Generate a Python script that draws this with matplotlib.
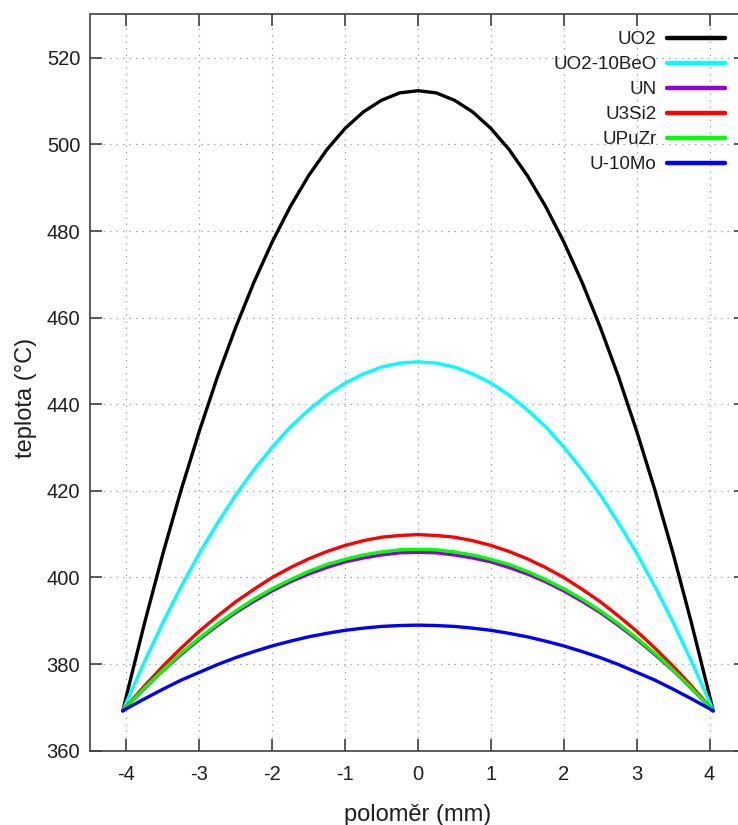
# =============================================================================
# Imports
# =============================================================================
import matplotlib
matplotlib.use('Agg')
import matplotlib.pyplot as plt

# =============================================================================
# Data - teplotni profil v palivu (polomer v mm, teplota ve stupnich C)
# =============================================================================
r_mm = [-4.05, -4.0, -3.75, -3.5, -3.25, -3.0, -2.75, -2.5, -2.25, -2.0, -1.75,
        -1.5, -1.25, -1.0, -0.75, -0.5, -0.25, 0.0, 0.25, 0.5, 0.75, 1.0, 1.25,
        1.5, 1.75, 2.0, 2.25, 2.5, 2.75, 3.0, 3.25, 3.5, 3.75, 4.0, 4.05]

t_uo2 = [369.2, 372.7, 389.6, 405.5, 420.2, 433.8, 446.4, 457.8, 468.2, 477.5,
         485.7, 492.8, 498.8, 503.7, 507.5, 510.2, 511.9, 512.4, 511.9, 510.2,
         507.5, 503.7, 498.8, 492.8, 485.7, 477.5, 468.2, 457.8, 446.4, 433.8,
         420.2, 405.5, 389.6, 372.7, 369.2]
t_uo2_beo = [369.2, 371.2, 380.7, 389.6, 397.9, 405.6, 412.6, 419.1, 424.9, 430.1,
             434.8, 438.7, 442.1, 444.9, 447.0, 448.6, 449.5, 449.8, 449.5, 448.6,
             447.0, 444.9, 442.1, 438.7, 434.8, 430.1, 424.9, 419.1, 412.6, 405.6,
             397.9, 389.6, 380.7, 371.2, 369.2]
t_un = [369.2, 370.1, 374.4, 378.5, 382.2, 385.7, 388.9, 391.9, 394.5, 396.9,
        399.0, 400.8, 402.3, 403.6, 404.5, 405.2, 405.7, 405.8, 405.7, 405.2,
        404.5, 403.6, 402.3, 400.8, 399.0, 396.9, 394.5, 391.9, 388.9, 385.7,
        382.2, 378.5, 374.4, 370.1, 369.2]
t_u3si2 = [369.2, 370.2, 375.0, 379.5, 383.7, 387.6, 391.1, 394.4, 397.3, 400.0,
           402.3, 404.3, 406.0, 407.4, 408.5, 409.3, 409.7, 409.9, 409.7, 409.3,
           408.5, 407.4, 406.0, 404.3, 402.3, 400.0, 397.3, 394.4, 391.1, 387.6,
           383.7, 379.5, 375.0, 370.2, 369.2]
t_upuzr = [369.2, 370.1, 374.5, 378.6, 382.5, 386.0, 389.3, 392.3, 395.0, 397.4,
           399.5, 401.4, 403.0, 404.2, 405.2, 405.9, 406.4, 406.5, 406.4, 405.9,
           405.2, 404.2, 403.0, 401.4, 399.5, 397.4, 395.0, 392.3, 389.3, 386.0,
           382.5, 378.6, 374.5, 370.1, 369.2]
t_u10mo = [369.2, 369.7, 372.0, 374.2, 376.3, 378.1, 379.9, 381.5, 382.9, 384.2,
           385.3, 386.3, 387.1, 387.8, 388.3, 388.7, 388.9, 389.0, 388.9, 388.7,
           388.3, 387.8, 387.1, 386.3, 385.3, 384.2, 382.9, 381.5, 379.9, 378.1,
           376.3, 374.2, 372.0, 369.7, 369.2]

labels = ['UO2', 'UO2-10BeO', 'UN', 'U3Si2', 'UPuZr', 'U-10Mo']
colors = ['#000000', '#00ffff', '#9400d3', '#ff0000', '#00ff00', '#0000ff']
series = [t_uo2, t_uo2_beo, t_un, t_u3si2, t_upuzr, t_u10mo]

x_ticks = [-4, -3, -2, -1, 0, 1, 2, 3, 4]
y_ticks = [360, 380, 400, 420, 440, 460, 480, 500, 520]

# =============================================================================
# Plot
# =============================================================================
plt.rcParams['font.family'] = ['Liberation Sans', 'DejaVu Sans']
plt.rcParams['axes.unicode_minus'] = False

fig = plt.figure(figsize=(7.38, 8.25), dpi=100)
ax = fig.add_axes([90 / 738, 74.3 / 825, 656 / 738, 736.2 / 825])

for t, lab, col in zip(series, labels, colors):
    ax.plot(r_mm, t, color=col, lw=2.4, label=lab,
            solid_capstyle='round', solid_joinstyle='round')

ax.set_xlim(-4.5, 4.5)
ax.set_ylim(360, 530)
ax.set_xticks(x_ticks)
ax.set_yticks(y_ticks)

ax.grid(True, color='#a8a8a8', lw=0.9, linestyle=(0, (1.2, 4.0)))
for s in ax.spines.values():
    s.set_color('#404040')
    s.set_linewidth(1.2)
ax.tick_params(direction='in', length=8.5, width=1.2, color='#404040',
               top=True, right=True, labelsize=14.5, labelcolor='#1e1e1e')
ax.tick_params(axis='x', pad=10)
ax.tick_params(axis='y', pad=7)

fig.text(26 / 738, 1 - 398 / 825, 'teplota (°C)', rotation=90,
         ha='center', va='center', fontsize=17, color='#1e1e1e')
fig.text(418 / 738, 1 - 815 / 825, 'poloměr (mm)',
         ha='center', va='center', fontsize=17, color='#1e1e1e')

# legenda vpravo nahore: text zarovnany doprava, cara za textem
leg = ax.legend(loc='upper right', bbox_to_anchor=(725 / 738, 1 - 31 / 825),
                bbox_transform=fig.transFigure, frameon=False, markerfirst=False,
                fontsize=13.5, handlelength=3.1, handletextpad=0.55,
                labelspacing=0.42, borderpad=0, borderaxespad=0)
for col in leg._legend_handle_box.get_children():
    col.align = 'right'
for text in leg.get_texts():
    text.set_color('#1e1e1e')
for line in leg.get_lines():
    line.set_linewidth(3.2)

fig.savefig('out.png', dpi=100)
